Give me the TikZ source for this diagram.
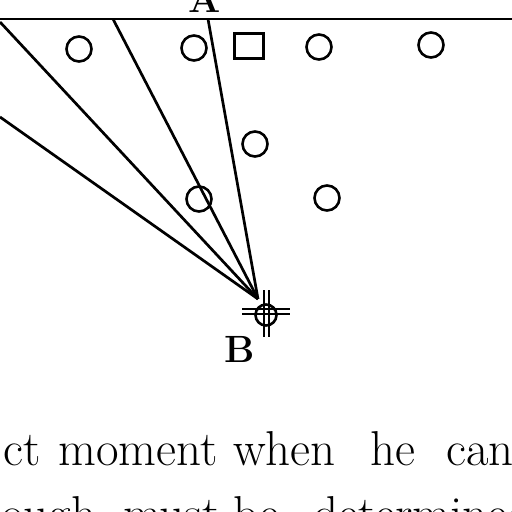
\documentclass[tikz,border=0pt]{standalone}
\begin{document}
\begin{tikzpicture}[x=1pt,y=-1pt,
  ring/.style={circle,draw,line width=2.6pt,minimum size=25pt,inner sep=0pt},
  sq/.style={rectangle,draw,line width=2.6pt,minimum width=29pt,minimum height=25pt,inner sep=0pt},
  ray/.style={line width=2.7pt},
  mark line/.style={line width=2.6pt},
  lbl/.style={font=\fontsize{38}{38}\selectfont\bfseries,inner sep=0pt,anchor=base},
  txt/.style={font=\fontsize{49}{49}\selectfont,inner sep=0pt,anchor=base west}]
\useasboundingbox (0,0) rectangle (512,512);
% top line
\coordinate (L0) at (0,19);
\coordinate (L1) at (512,19);
\draw[ray] (L0) -- (L1);
% obstacles
\node[ring] (c1) at (79,49) {};
\node[ring] (c2) at (194,48) {};
\node[sq]   (s1) at (249,46) {};
\node[ring] (c3) at (319,47) {};
\node[ring] (c4) at (431,45) {};
\node[ring] (c5) at (255,144) {};
\node[ring] (c6) at (199,199) {};
\node[ring] (c7) at (327,198) {};
% rays
\coordinate (B) at (258,299);
\coordinate (r1) at (0,22);
\coordinate (r2) at (0,117);
\coordinate (r3) at (113,19);
\coordinate (A) at (208,19);
\draw[ray] (r1) -- (B);
\draw[ray] (r2) -- (B);
\draw[ray] (r3) -- (B);
\draw[ray] (A) -- (B);
% target mark at B
\coordinate (T) at (266,315);
\draw[mark line] (T) circle (10.5);
\draw[mark line] (242,309) -- (290,309);
\draw[mark line] (242,314) -- (290,314);
\draw[mark line] (264,290) -- (264,337);
\draw[mark line] (269,290) -- (269,337);
% labels
\node[lbl] (la) at (205,12) {A};
\node[lbl] (lb) at (240,362) {B};
% text
\node[txt] (w1) at (3,465) {ct};
\node[txt] (w2) at (58,465) {moment};
\node[txt] (w3) at (233,465) {when};
\node[txt] (w4) at (370,465) {he};
\node[txt] (w5) at (446,465) {can};
\node[txt] (v1) at (1,530) {ough};
\node[txt] (v2) at (123,530) {must};
\node[txt] (v3) at (233,530) {be};
\node[txt] (v4) at (313,530) {determined};
\end{tikzpicture}
\end{document}
